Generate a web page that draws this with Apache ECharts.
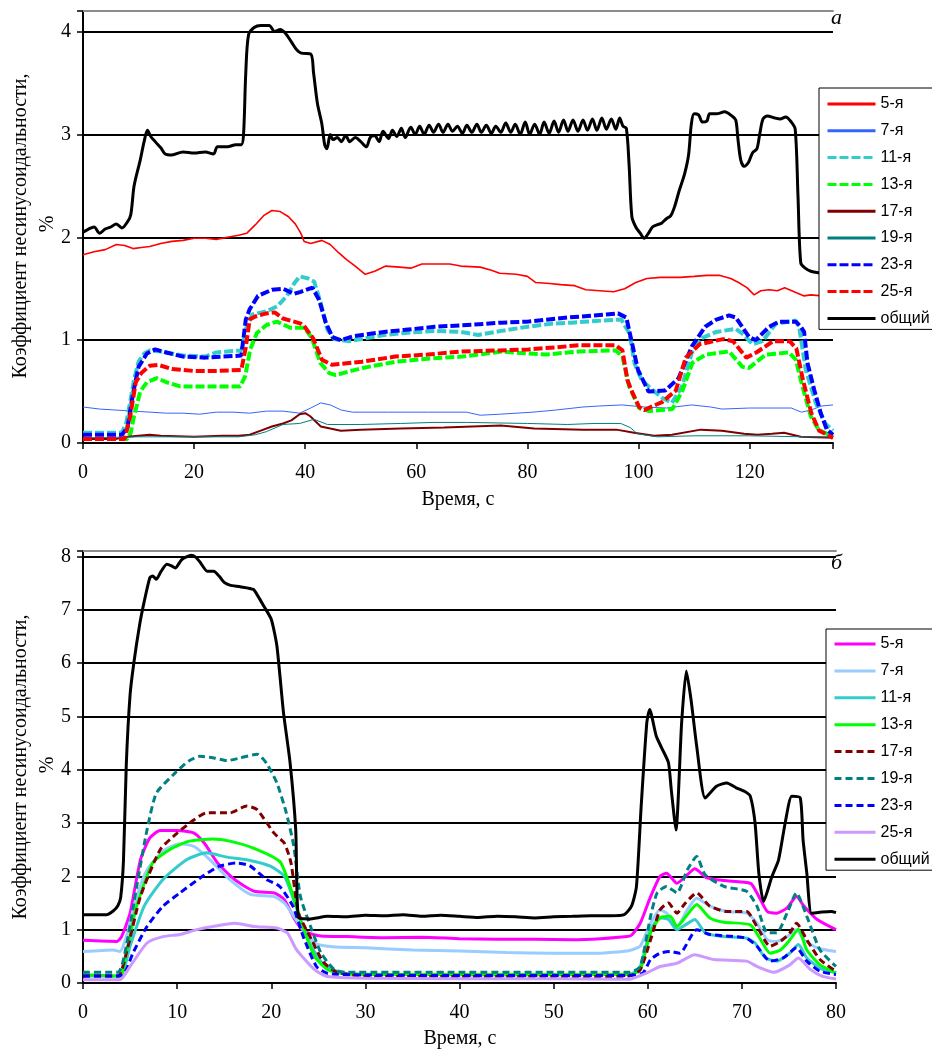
<!DOCTYPE html>
<html><head><meta charset="utf-8">
<script src="https://cdn.jsdelivr.net/npm/echarts@6/dist/echarts.min.js"></script>
<style>html,body{margin:0;padding:0;background:#fff}#c{width:932px;height:1055px}</style>
</head><body><div id="c"></div>
<script>
// ---------- Chart а (0..135 s) ----------
const namesA = ['5-я','7-я','11-я','13-я','17-я','19-я','23-я','25-я','общий'];
const xTicksA = [0,20,40,60,80,100,120];
const yTicksA = [0,1,2,3,4];
const a5 = [[0,1.83],[2,1.86],[4,1.88],[6,1.93],[7.5,1.92],[9,1.89],[10.5,1.9],[12,1.91],[14,1.94],[16,1.96],[18,1.97],[20,1.99],[22,1.99],[24,1.98],[26,2.0],[28,2.02],[29.5,2.04],[31,2.12],[32.5,2.21],[34,2.26],[35.5,2.25],[37,2.2],[38.2,2.13],[39.2,2.04],[39.8,1.96],[41,1.94],[43,1.97],[44.5,1.93],[46,1.85],[47.5,1.78],[49,1.72],[50.8,1.64],[52.5,1.67],[54.5,1.72],[57,1.71],[59,1.7],[61,1.74],[63,1.74],[66,1.74],[68,1.72],[71.5,1.71],[73.5,1.68],[75,1.65],[78,1.64],[80,1.62],[81.5,1.56],[84,1.55],[86,1.54],[88.5,1.53],[90.5,1.49],[93,1.48],[95.5,1.47],[97.5,1.5],[99.5,1.56],[101.5,1.6],[104,1.61],[107.5,1.61],[110,1.62],[112.3,1.63],[114.5,1.63],[116.6,1.6],[118,1.56],[119.5,1.51],[120.8,1.44],[122,1.48],[123.5,1.49],[125,1.48],[126.3,1.51],[128,1.47],[129.8,1.43],[131,1.44],[133,1.43],[135,1.42]];
const a7 = [[0,0.35],[3,0.33],[6,0.32],[9,0.31],[12,0.3],[15,0.29],[18,0.29],[21,0.28],[24,0.3],[27,0.3],[30,0.29],[33,0.31],[36,0.31],[39,0.29],[41,0.34],[42.8,0.39],[44.5,0.37],[46.5,0.32],[48.5,0.3],[55,0.3],[62,0.3],[69,0.3],[71.5,0.27],[75,0.28],[81,0.3],[85,0.32],[90,0.35],[93,0.36],[97,0.37],[101,0.35],[105,0.34],[109.5,0.37],[113,0.35],[115,0.33],[120,0.34],[124,0.34],[127.5,0.34],[129.3,0.3],[131,0.32],[133,0.36],[135,0.37]];
const a11 = [[0,0.1],[7,0.1],[7.8,0.2],[8.5,0.4],[9.2,0.62],[10,0.79],[11,0.87],[12,0.9],[14,0.89],[16,0.87],[18,0.85],[22,0.84],[24,0.88],[26,0.89],[28.5,0.9],[29.5,1.14],[30.5,1.25],[33,1.28],[35,1.33],[36.7,1.43],[38,1.55],[39,1.62],[40.5,1.6],[41.6,1.57],[42.8,1.36],[44,1.1],[45.2,1.01],[47.9,0.99],[51,1.02],[54.2,1.05],[58,1.07],[63.3,1.09],[68,1.08],[71.1,1.05],[75.3,1.09],[80,1.13],[84.3,1.16],[88,1.17],[93.3,1.19],[96.9,1.2],[98.4,1.06],[99.3,0.77],[100.5,0.62],[101.8,0.55],[104.2,0.44],[106,0.39],[107.8,0.55],[109.6,0.88],[111.4,1.02],[114,1.08],[117.5,1.11],[119,1.05],[120.5,0.96],[122.3,0.99],[124.7,1.16],[128.3,1.19],[128.9,1.13],[130.1,0.71],[131.9,0.39],[133.6,0.19],[135,0.12]];
const a13 = [[0,0.04],[8,0.04],[8.6,0.1],[9.1,0.24],[10.3,0.5],[11.5,0.59],[13.3,0.63],[15.1,0.59],[17.5,0.55],[22,0.55],[28.3,0.55],[29.2,0.65],[30.1,0.91],[31.3,1.07],[33.1,1.15],[34.9,1.18],[37.3,1.12],[39.9,1.12],[41.2,1.02],[42.7,0.78],[44.3,0.68],[45.5,0.66],[50.3,0.73],[56.3,0.79],[62,0.82],[68.3,0.84],[75.5,0.89],[80,0.87],[83.3,0.86],[89.3,0.89],[95.9,0.9],[97.1,0.84],[98.3,0.55],[100.1,0.34],[101.9,0.31],[106.1,0.33],[107.9,0.51],[109.7,0.78],[112.1,0.86],[116.3,0.89],[118.7,0.74],[119.9,0.73],[122.9,0.86],[127.1,0.88],[128.3,0.81],[129.5,0.55],[131,0.26],[132.4,0.13],[135,0.06]];
const a17 = [[0,0.04],[6,0.04],[8,0.06],[10,0.07],[12,0.08],[14,0.07],[20,0.06],[25,0.07],[28,0.07],[30,0.08],[32,0.12],[34,0.16],[36,0.19],[37.5,0.22],[39,0.28],[40,0.29],[40.9,0.26],[42.8,0.16],[44.5,0.14],[46.4,0.12],[50,0.13],[57.2,0.14],[65,0.15],[75.2,0.17],[81.2,0.14],[90,0.13],[96,0.13],[99.2,0.1],[102.8,0.07],[106,0.08],[111.2,0.13],[115,0.12],[119,0.09],[121.4,0.08],[124,0.09],[126.2,0.1],[129.2,0.06],[135,0.05]];
const a19 = [[0,0.05],[10,0.06],[20,0.06],[28,0.06],[31,0.08],[33,0.11],[36,0.18],[39,0.19],[41.6,0.23],[44,0.18],[50,0.18],[57.2,0.19],[63,0.2],[69.2,0.2],[80,0.19],[87.2,0.18],[92,0.19],[96.8,0.19],[98.5,0.15],[99.8,0.09],[103.4,0.06],[110,0.07],[120,0.07],[130,0.06],[135,0.06]];
const a23 = [[0,0.08],[7,0.08],[8,0.15],[9,0.48],[10,0.74],[11.5,0.87],[13,0.91],[15,0.88],[18,0.84],[22,0.83],[25,0.84],[28.5,0.85],[29.3,1.2],[30,1.3],[31.5,1.43],[34,1.49],[36,1.5],[38,1.45],[39.2,1.47],[41.3,1.51],[42.5,1.39],[43.7,1.17],[44.9,1.03],[46.4,1.0],[48.8,1.04],[54.2,1.08],[58,1.1],[63.3,1.13],[70,1.15],[75.3,1.17],[80,1.18],[87.3,1.22],[92,1.24],[96.3,1.26],[97.8,1.22],[98.7,1.0],[99.9,0.71],[101.8,0.5],[104.8,0.51],[107.2,0.63],[109.6,0.94],[112,1.13],[114,1.2],[116.3,1.24],[117.5,1.22],[119.9,1.03],[121.1,1.0],[123.5,1.13],[125.3,1.18],[128.3,1.18],[129.2,1.13],[129.8,1.08],[130.4,0.78],[131.6,0.52],[132.8,0.29],[133.9,0.13],[135,0.08]];
const a25 = [[0,0.04],[7.5,0.04],[8.5,0.26],[9.5,0.59],[10.5,0.68],[12,0.75],[13.5,0.76],[16,0.72],[20,0.7],[24,0.7],[28.5,0.71],[29.3,0.93],[30,1.2],[31,1.23],[33,1.26],[34.5,1.27],[36,1.21],[38,1.18],[39.2,1.16],[39.9,1.13],[41.4,1.02],[43,0.81],[44.8,0.76],[50.2,0.79],[56.2,0.84],[62,0.86],[68.2,0.89],[75,0.9],[80.2,0.91],[85,0.93],[89.3,0.95],[95.9,0.95],[97.1,0.9],[98,0.61],[98.9,0.49],[100.1,0.35],[101,0.32],[104.3,0.4],[106.7,0.51],[108.5,0.83],[111,0.96],[115.2,1.01],[117,0.99],[119.4,0.83],[121.2,0.88],[124.2,0.99],[127.2,0.99],[128.4,0.92],[129.6,0.61],[131.1,0.29],[132.5,0.12],[135,0.05]];
const aTotal = [[0,2.05],[1,2.08],[2,2.1],[3,2.04],[4,2.08],[5,2.1],[6,2.13],[7,2.09],[8,2.15],[8.6,2.22],[9.2,2.5],[10.3,2.75],[11,2.93],[11.6,3.04],[12.2,2.98],[13,2.93],[14,2.87],[14.8,2.81],[16,2.8],[18,2.83],[20,2.82],[22,2.83],[23.5,2.81],[24.2,2.88],[26,2.88],[27.5,2.9],[28.5,2.9],[28.9,3.0],[29.3,3.6],[29.8,3.97],[30.8,4.04],[32,4.06],[33.5,4.06],[34.5,4.0],[35.5,4.02],[36.5,3.98],[37.5,3.9],[38.5,3.82],[39.3,3.79],[41,3.78],[41.5,3.6],[42.2,3.3],[43,3.1],[43.5,2.9],[43.9,2.86],[44.5,3.0],[45,2.95],[45.8,2.97],[46.5,2.93],[47.3,2.99],[48,2.93],[49,2.97],[50,2.93],[51,2.88],[51.7,2.97],[52.5,2.99],[53.3,2.93],[54,3.03],[55,2.96],[55.7,3.04],[56.5,2.98],[57.3,3.06],[58,2.97],[59,3.07],[59.8,3.0],[60.6,3.08],[61.4,3.0],[62.3,3.09],[63.1,3.02],[64,3.1],[64.8,3.02],[65.7,3.1],[66.5,3.03],[67.4,3.08],[68.3,3.01],[69.1,3.09],[70,3.02],[70.9,3.1],[71.7,3.02],[72.6,3.09],[73.5,3.01],[74.3,3.08],[75.2,3.02],[76.1,3.11],[77,3.02],[77.8,3.1],[78.7,3.0],[79.6,3.12],[80.4,3.0],[81.3,3.1],[82.2,3.0],[83,3.12],[83.9,3.01],[84.8,3.13],[85.6,3.02],[86.5,3.14],[87.3,3.03],[88.2,3.14],[89.1,3.03],[90,3.14],[90.8,3.04],[91.7,3.15],[92.5,3.04],[93.4,3.16],[94.2,3.05],[95.1,3.15],[95.9,3.05],[96.6,3.16],[97.2,3.08],[97.8,3.06],[98.3,2.7],[98.8,2.2],[99.5,2.1],[100.3,2.04],[101,1.99],[101.8,2.04],[102.5,2.1],[103.3,2.12],[104.2,2.14],[105,2.18],[105.8,2.21],[106.5,2.3],[107.3,2.45],[108.3,2.62],[109,2.8],[109.5,3.1],[110,3.2],[110.8,3.19],[111.5,3.12],[112.3,3.13],[112.8,3.2],[114,3.2],[115.5,3.22],[116.8,3.18],[117.5,3.14],[117.9,2.95],[118.4,2.75],[119,2.69],[119.8,2.73],[120.5,2.82],[121.3,2.86],[121.8,3.0],[122.4,3.15],[123.2,3.18],[124.5,3.16],[125.5,3.15],[126.5,3.17],[127.5,3.12],[128.2,3.05],[128.7,2.4],[129.2,1.75],[130,1.7],[131,1.67],[133,1.65],[135,1.63]];

// ---------- Chart б (0..80 s) ----------
const namesB = ['5-я','7-я','11-я','13-я','17-я','19-я','23-я','25-я','общий'];
const xTicksB = [0,10,20,30,40,50,60,70,80];
const yTicksB = [0,1,2,3,4,5,6,7,8];
const b5 = [[0,0.8],[3.6,0.78],[4.1,0.87],[5,1.31],[6.1,2.31],[7.1,2.72],[8.2,2.86],[10,2.86],[11.8,2.81],[12.9,2.62],[14.3,2.25],[16.1,1.94],[18.2,1.72],[20.3,1.69],[21.4,1.56],[22.5,1.19],[23.5,0.97],[25.3,0.88],[28,0.87],[32,0.85],[36,0.86],[40,0.83],[44,0.82],[48,0.82],[52,0.81],[55,0.83],[57.8,0.87],[58.3,0.9],[59.2,1.12],[60.3,1.62],[61.3,2.0],[62,2.06],[63.1,1.87],[64.2,2.03],[65,2.14],[66.3,1.97],[68.1,1.92],[70.9,1.87],[71.6,1.69],[72.7,1.34],[73.7,1.31],[74.8,1.41],[75.8,1.62],[76.6,1.44],[78,1.19],[80,1.0]];
const b7 = [[0,0.59],[3.2,0.62],[3.9,0.59],[4.6,0.87],[5.7,1.62],[6.8,2.12],[8.5,2.47],[10.3,2.61],[11.8,2.56],[13.5,2.31],[15.6,1.94],[17.8,1.66],[20.3,1.62],[21.4,1.5],[22.9,1.12],[24.6,0.75],[26.5,0.68],[30,0.66],[35,0.62],[40,0.6],[45,0.57],[50,0.56],[55,0.56],[57.8,0.6],[58.3,0.62],[59.2,0.69],[60.3,1.12],[61.3,1.37],[62,1.31],[63.1,1.06],[64.2,1.37],[65.2,1.59],[66.6,1.44],[68.4,1.34],[70.5,1.31],[71.6,1.12],[72.7,0.81],[73.7,0.78],[74.8,0.87],[75.8,1.0],[76.6,0.81],[78,0.66],[80,0.59]];
const b11 = [[0,0.13],[3.9,0.13],[5,0.69],[6.5,1.44],[8.5,1.94],[11,2.31],[13.1,2.44],[15.3,2.36],[17.4,2.31],[19.9,2.19],[21.4,2.0],[22.5,1.5],[23.9,0.81],[25.3,0.4],[26.5,0.25],[28,0.18],[35,0.16],[45,0.15],[55,0.16],[58.2,0.17],[59.2,0.31],[60.3,1.0],[61.3,1.22],[62.2,1.19],[63.1,1.0],[64,1.09],[65,1.19],[66.1,0.94],[67.7,0.875],[70.5,0.84],[71.4,0.75],[72.5,0.47],[73.7,0.41],[75.1,0.56],[76,0.72],[76.9,0.47],[78.3,0.28],[80,0.19]];
const b13 = [[0,0.16],[3.9,0.13],[4.6,0.56],[5.7,1.44],[7.4,2.25],[9.2,2.5],[11.3,2.66],[13.8,2.7],[15.6,2.66],[18.1,2.53],[20.9,2.28],[22,1.81],[23.1,1.19],[24.6,0.5],[26,0.25],[28,0.17],[35,0.16],[45,0.16],[55,0.16],[58.2,0.16],[59.2,0.25],[60.3,0.94],[61.3,1.22],[62.4,1.25],[63.1,1.06],[64.2,1.28],[65.2,1.47],[66.6,1.22],[68.1,1.14],[70.9,1.09],[72,0.81],[73,0.56],[74.1,0.62],[75.1,0.81],[76,1.01],[76.9,0.62],[78.3,0.34],[80,0.19]];
const b17 = [[0,0.13],[3.7,0.13],[4.6,0.56],[6.1,1.62],[8.2,2.5],[10,2.81],[11.8,3.06],[13.1,3.19],[15.6,3.19],[17.4,3.32],[18.5,3.25],[20.3,2.81],[21.4,2.62],[22.1,2.25],[22.9,1.31],[24.3,0.81],[25.5,0.4],[27,0.2],[30,0.13],[40,0.12],[50,0.12],[58,0.13],[59.2,0.25],[60.3,0.81],[61.3,1.37],[62.2,1.5],[63.1,1.31],[64,1.5],[65.2,1.69],[66.6,1.44],[68.4,1.34],[70.5,1.34],[71.6,1.06],[73,0.69],[74.1,0.78],[75.1,0.94],[75.8,1.12],[76.9,0.81],[78.3,0.44],[80,0.22]];
const b19 = [[0,0.2],[3.7,0.2],[4.6,0.69],[5.7,1.81],[6.8,2.87],[7.8,3.56],[9.8,3.94],[11.2,4.16],[12.4,4.25],[13.9,4.22],[15.3,4.17],[16.7,4.22],[18.5,4.29],[19.5,4.12],[20.6,3.75],[21.6,3.19],[22.4,2.56],[23.1,1.62],[24.3,1.0],[25.3,0.56],[26.7,0.25],[28,0.2],[40,0.2],[50,0.2],[58.1,0.2],[59.2,0.31],[60.3,1.25],[61,1.69],[62,1.81],[63.1,1.69],[64.2,2.12],[65.2,2.37],[66.1,2.03],[68.1,1.81],[70.5,1.72],[71.6,1.44],[72.7,0.94],[73.7,0.94],[74.8,1.31],[75.8,1.69],[76.9,1.25],[78.3,0.62],[80,0.31]];
const b23 = [[0,0.13],[3.9,0.13],[4.6,0.25],[5.3,0.56],[6.8,1.06],[8.5,1.44],[10.3,1.69],[12.7,2.0],[14.5,2.19],[16.3,2.25],[17.7,2.2],[19.5,1.94],[20.9,1.81],[22.3,1.44],[23.4,0.87],[24.8,0.31],[26,0.18],[30,0.15],[40,0.14],[50,0.14],[58,0.14],[59.5,0.19],[60.3,0.44],[61.3,0.56],[62.4,0.59],[63.4,0.56],[65.2,1.0],[66.6,0.91],[68.8,0.875],[70.5,0.84],[71.6,0.69],[73,0.41],[74.4,0.47],[75.8,0.66],[76.9,0.41],[78.3,0.22],[80,0.16]];
const b25 = [[0,0.06],[3.9,0.06],[5,0.31],[6.8,0.75],[8.5,0.87],[10.3,0.91],[12.1,1.0],[13.8,1.06],[16.1,1.12],[18.2,1.06],[20.6,1.03],[21.7,0.94],[22.7,0.62],[24.6,0.25],[26,0.12],[30,0.09],[40,0.08],[50,0.08],[58,0.07],[59.9,0.19],[61.3,0.31],[63.1,0.37],[65,0.53],[67,0.44],[70.5,0.41],[71.6,0.31],[73.4,0.2],[75.1,0.34],[76,0.47],[77.3,0.25],[78.5,0.13],[80,0.075]];
const bTotal = [[0,1.28],[2.5,1.28],[3.2,1.35],[3.7,1.45],[4.0,1.6],[4.3,2.3],[4.6,4.1],[5,5.4],[5.4,6.0],[6,6.7],[6.5,7.15],[7.1,7.6],[7.4,7.63],[7.8,7.57],[8.3,7.72],[8.9,7.85],[9.4,7.82],[9.8,7.78],[10.5,7.94],[11.5,8.02],[12,7.98],[12.4,7.9],[13.2,7.72],[13.9,7.72],[14.5,7.62],[15,7.51],[15.6,7.46],[16.7,7.43],[18.1,7.38],[18.6,7.25],[19.2,7.07],[20,6.82],[20.6,6.32],[21.3,5.07],[22,4.13],[22.6,2.87],[22.9,1.22],[24,1.2],[26,1.25],[28,1.24],[30,1.27],[32,1.26],[34,1.28],[36,1.25],[38,1.27],[40,1.25],[42,1.23],[44,1.25],[46,1.24],[48,1.22],[50,1.24],[52,1.25],[54,1.26],[56,1.26],[57.5,1.28],[58.3,1.45],[58.8,1.81],[59.3,3.31],[59.9,4.88],[60.2,5.13],[60.9,4.63],[61.5,4.4],[62.2,4.13],[62.5,3.62],[63.0,2.87],[63.6,4.88],[64.1,5.85],[64.6,5.31],[65.2,4.44],[66.1,3.47],[67.3,3.69],[68.4,3.75],[69.4,3.66],[70.4,3.58],[70.9,3.5],[71.4,3.0],[71.8,2.06],[72.3,1.53],[73.2,2.0],[73.9,2.31],[74.6,3.0],[75.3,3.5],[76.2,3.47],[76.5,2.69],[76.9,2.06],[77.4,1.31],[78.5,1.33],[79.5,1.34],[80,1.32]];

const dataA = [a5,a7,a11,a13,a17,a19,a23,a25,aTotal];
const dataB = [b5,b7,b11,b13,b17,b19,b23,b25,bTotal];
const styleA = [
  {c:'#ff0000',w:1.6,t:'solid'},{c:'#3366ff',w:1,t:'solid'},{c:'#33cccc',w:4,t:[9,3]},{c:'#00ff00',w:4,t:[9,3]},
  {c:'#800000',w:2,t:'solid'},{c:'#008080',w:1,t:'solid'},{c:'#0000ff',w:4,t:[9,3]},{c:'#ff0000',w:4,t:[9,3]},{c:'#000000',w:3,t:'solid'}];
const styleB = [
  {c:'#ff00ff',w:3,t:'solid'},{c:'#99ccff',w:3,t:'solid'},{c:'#33cccc',w:3,t:'solid'},{c:'#00ff00',w:3,t:'solid'},
  {c:'#800000',w:3,t:[7,4]},{c:'#008080',w:3,t:[7,4]},{c:'#0000ff',w:3,t:[7,4]},{c:'#cc99ff',w:3,t:'solid'},{c:'#000000',w:3,t:'solid'}];

const serif = '"Liberation Serif","Times New Roman",serif';
const sans = '"Liberation Sans",Arial,sans-serif';
const chart = echarts.init(document.getElementById('c'), null, {renderer:'canvas'});

function mkX(grid, max, interval, ticks){
  return {type:'value', gridIndex:grid, min:0, max:max, interval:interval,
    axisLine:{show:true, lineStyle:{color:'#000', width:2}},
    axisTick:{show:true, inside:false, length:6, lineStyle:{color:'#000', width:1.5}},
    axisLabel:{show:true, margin:20, color:'#000', fontFamily:serif, fontSize:20,
      formatter: v => ticks.indexOf(v) >= 0 ? String(v) : ''},
    splitLine:{show:false}};
}
function mkXTop(grid, max){
  return {type:'value', gridIndex:grid, position:'top', min:0, max:max,
    axisLine:{show:true, lineStyle:{color:'#8c8c8c', width:2}},
    axisTick:{show:false}, axisLabel:{show:false}, splitLine:{show:false}};
}
function mkY(grid, max, ticks){
  const cols = ticks.map(()=> '#000'); cols.push('#8c8c8c');
  return {type:'value', gridIndex:grid, min:0, max:max, interval:1,
    axisLine:{show:true, lineStyle:{color:'#000', width:2}},
    axisTick:{show:true, inside:false, length:6, lineStyle:{color:'#000', width:1.5}},
    axisLabel:{show:true, margin:12, color:'#000', fontFamily:serif, fontSize:20,
      formatter: v => ticks.indexOf(v) >= 0 ? String(v) : ''},
    splitLine:{show:true, lineStyle:{color:cols, width:2}}};
}

const series = [];
namesA.forEach((n,i)=>{
  series.push({name:'a_'+n, type:'line', xAxisIndex:0, yAxisIndex:0, data:dataA[i], symbol:'none',
    smooth: i === 8 ? 0.3 : false,
    animation:false, lineStyle:{color:styleA[i].c, width:styleA[i].w, type:styleA[i].t, cap:'butt'},
    itemStyle:{color:styleA[i].c}});
});
namesB.forEach((n,i)=>{
  series.push({name:'b_'+n, type:'line', xAxisIndex:2, yAxisIndex:1, data:dataB[i], symbol:'none', smooth:0.2,
    animation:false, lineStyle:{color:styleB[i].c, width:styleB[i].w, type:styleB[i].t, cap:'butt'},
    itemStyle:{color:styleB[i].c}});
});

const legendBase = {orient:'vertical', backgroundColor:'#fff', borderColor:'#000', borderWidth:1,
  itemHeight:14,
  itemStyle:{opacity:0},
  lineStyle:{width:3},
  textStyle:{color:'#000', fontFamily:sans, fontSize:16, lineHeight:16},
  formatter: name => name.replace(/^[ab]_/, ''), selectedMode:false};

chart.setOption({
  animation:false,
  backgroundColor:'#fff',
  grid:[
    {left:83, top:11, width:750, height:432, containLabel:false},
    {left:83, top:551, width:753, height:432, containLabel:false}
  ],
  xAxis:[mkX(0,135,20,xTicksA), mkXTop(0,135), mkX(1,80,10,xTicksB), mkXTop(1,80)],
  yAxis:[mkY(0,4.2,yTicksA), mkY(1,8.1,yTicksB)],
  legend:[
    Object.assign({}, legendBase, {left:819, top:88, padding:[8,40,3,7], itemWidth:48, itemGap:10.8,
      data:namesA.map(n=>'a_'+n)}),
    Object.assign({}, legendBase, {left:826, top:629, padding:[7,40,3,7], itemWidth:41, itemGap:10.9,
      data:namesB.map(n=>'b_'+n)})
  ],
  graphic:[
    {type:'text', x:21, y:226, rotation:Math.PI/2, style:{text:'Коэффициент несинусоидальности,', font:'20px '+serif, fill:'#000', textAlign:'center', textVerticalAlign:'middle'}},
    {type:'text', x:48, y:224, rotation:Math.PI/2, style:{text:'%', font:'20px '+serif, fill:'#000', textAlign:'center', textVerticalAlign:'middle'}},
    {type:'text', x:21, y:767, rotation:Math.PI/2, style:{text:'Коэффициент несинусоидальности,', font:'20px '+serif, fill:'#000', textAlign:'center', textVerticalAlign:'middle'}},
    {type:'text', x:48, y:765, rotation:Math.PI/2, style:{text:'%', font:'20px '+serif, fill:'#000', textAlign:'center', textVerticalAlign:'middle'}},
    {type:'text', x:458, y:500, style:{text:'Время, с', font:'20px '+serif, fill:'#000', textAlign:'center', textVerticalAlign:'middle'}},
    {type:'text', x:460, y:1039, style:{text:'Время, с', font:'20px '+serif, fill:'#000', textAlign:'center', textVerticalAlign:'middle'}},
    {type:'text', x:831, y:18, style:{text:'а', font:'italic 22px '+serif, fill:'#000', textAlign:'left', textVerticalAlign:'middle'}},
    {type:'text', x:831, y:563, style:{text:'б', font:'italic 22px '+serif, fill:'#000', textAlign:'left', textVerticalAlign:'middle'}}
  ],
  series: series
});
</script>
</body></html>
